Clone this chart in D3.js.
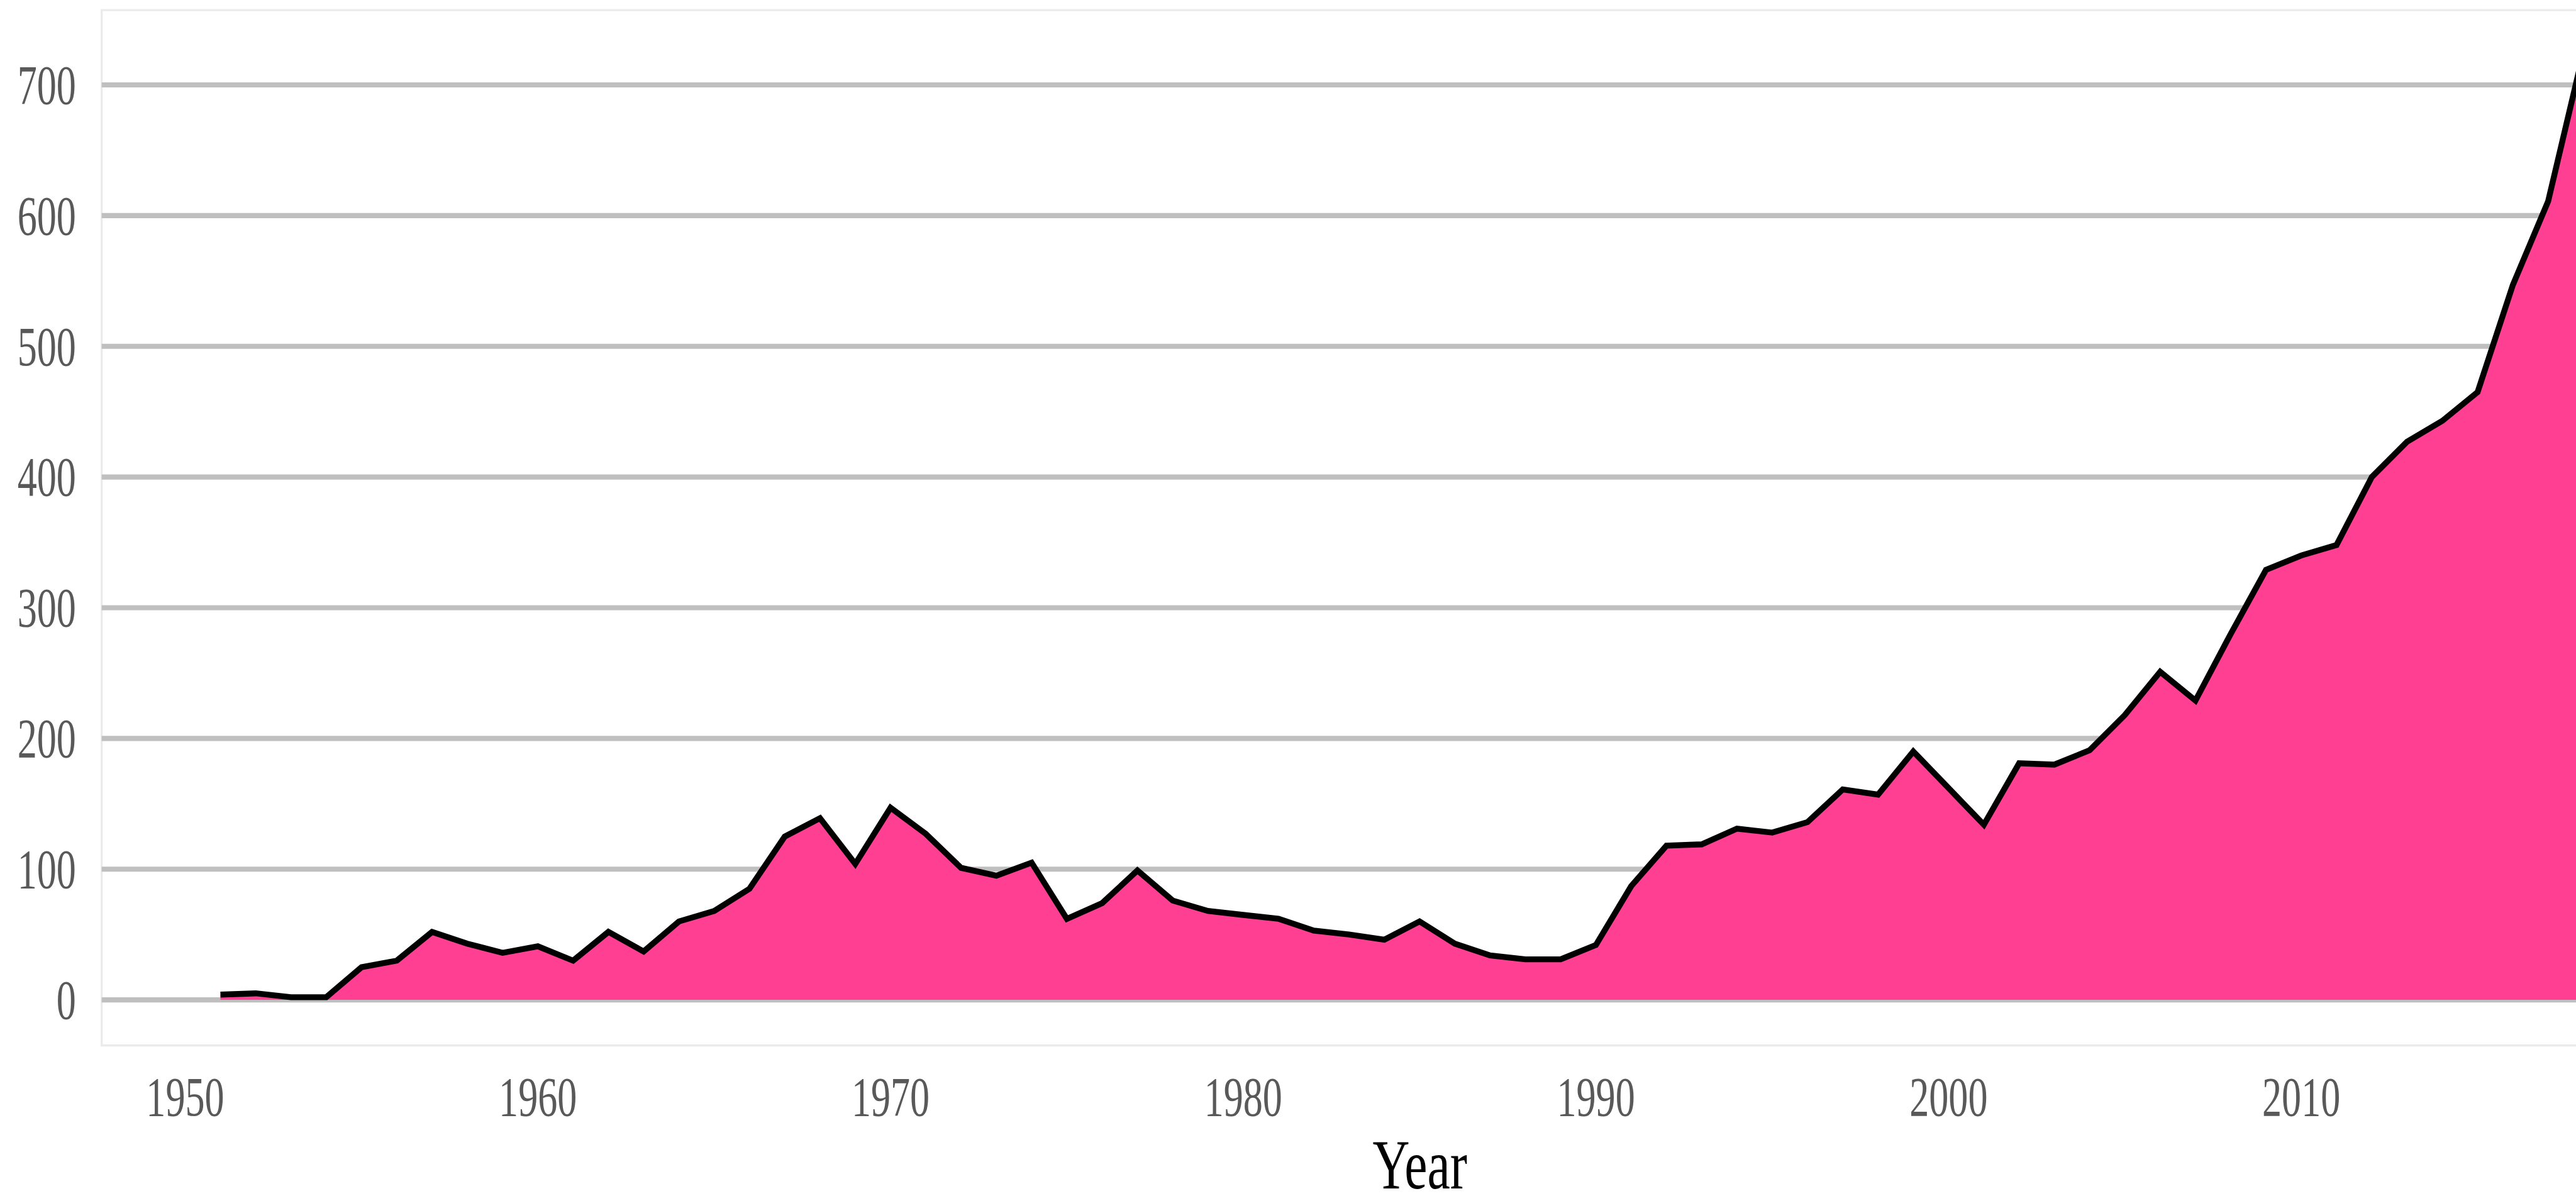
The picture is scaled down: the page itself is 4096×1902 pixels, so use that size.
<!DOCTYPE html>
<html>
<head>
<meta charset="utf-8">
<script src="https://cdn.jsdelivr.net/npm/d3@7"></script>
<style>
  html, body { margin: 0; padding: 0; background: #ffffff; overflow: hidden; }
  svg { display: block; }
</style>
</head>
<body>
<svg id="chart"></svg>
<script>
// ---- data ----
const years = [1951,1952,1953,1954,1955,1956,1957,1958,1959,1960,
               1961,1962,1963,1964,1965,1966,1967,1968,1969,1970,
               1971,1972,1973,1974,1975,1976,1977,1978,1979,1980,
               1981,1982,1983,1984,1985,1986,1987,1988,1989,1990,
               1991,1992,1993,1994,1995,1996,1997,1998,1999,2000,
               2001,2002,2003,2004,2005,2006,2007,2008,2009,2010,
               2011,2012,2013,2014,2015,2016,2017,2018];
const values = [4,5,2,2,25,30,52,43,36,41,
                30,52,37,60,68,85,125,139,104,147,
                127,101,95,105,62,74,99,76,68,65,
                62,53,50,46,60,43,34,31,31,42,
                87,118,119,131,128,136,161,157,190,162,
                134,181,180,191,218,251,229,280,329,340,
                348,400,427,443,465,547,611,725];
const yTicks = [0,100,200,300,400,500,600,700];
const xTicks = [1950,1960,1970,1980,1990,2000,2010];
const xTitle = "Year";

// ---- layout ----
const S = 0.851;
const W = 4096, H = 1902;
const svg = d3.select("#chart").attr("width", W).attr("height", H);

const x = d3.scaleLinear().domain([1950, 2018]).range([346 * S, 4827 * S]);
const y = d3.scaleLinear().domain([0, 700]).range([1868.5 * S, 158.7 * S]);

const plotLeft = 190 * S, plotTop = 19 * S, plotBottom = 1953.5 * S, plotRight = W + 20;

// frame
svg.append("path")
  .attr("d", `M${plotRight},${plotTop}H${plotLeft}V${plotBottom}H${plotRight}`)
  .attr("fill", "none")
  .attr("stroke", "#ebebeb")
  .attr("stroke-width", 4 * S);

// gridlines
svg.append("g").selectAll("line").data(yTicks).join("line")
  .attr("x1", plotLeft).attr("x2", plotRight)
  .attr("y1", d => y(d)).attr("y2", d => y(d))
  .attr("stroke", "#bfbfbf")
  .attr("stroke-width", 9.5 * S);

// area + line
const pts = years.map((yr, i) => ({ yr, v: values[i] }));
svg.append("path").datum(pts)
  .attr("d", d3.area().x(d => x(d.yr)).y0(y(0)).y1(d => y(d.v)))
  .attr("fill", "#ff3f91");
svg.append("path").datum(pts)
  .attr("d", d3.line().x(d => x(d.yr)).y(d => y(d.v)))
  .attr("fill", "none")
  .attr("stroke", "#000000")
  .attr("stroke-width", 11 * S)
  .attr("stroke-linejoin", "miter");

const font = "'Liberation Serif', 'Times New Roman', serif";
const stretch = 1.42;

// y labels
svg.append("g").selectAll("text").data(yTicks).join("text")
  .attr("transform", d => `translate(${142 * S},${y(d) + 35 * S}) scale(1,${stretch})`)
  .attr("text-anchor", "end")
  .attr("font-family", font)
  .attr("font-size", 73 * S)
  .attr("fill", "#595959")
  .text(d => d);

// x labels
svg.append("g").selectAll("text").data(xTicks).join("text")
  .attr("transform", d => `translate(${x(d)},${2085 * S}) scale(1,${stretch})`)
  .attr("text-anchor", "middle")
  .attr("font-family", font)
  .attr("font-size", 73 * S)
  .attr("fill", "#595959")
  .text(d => d);

// x title
svg.append("text")
  .attr("transform", `translate(${2653 * S},${2221 * S}) scale(1,1.38)`)
  .attr("text-anchor", "middle")
  .attr("font-family", font)
  .attr("font-size", 96 * S)
  .attr("fill", "#000000")
  .text(xTitle);
</script>
</body>
</html>
